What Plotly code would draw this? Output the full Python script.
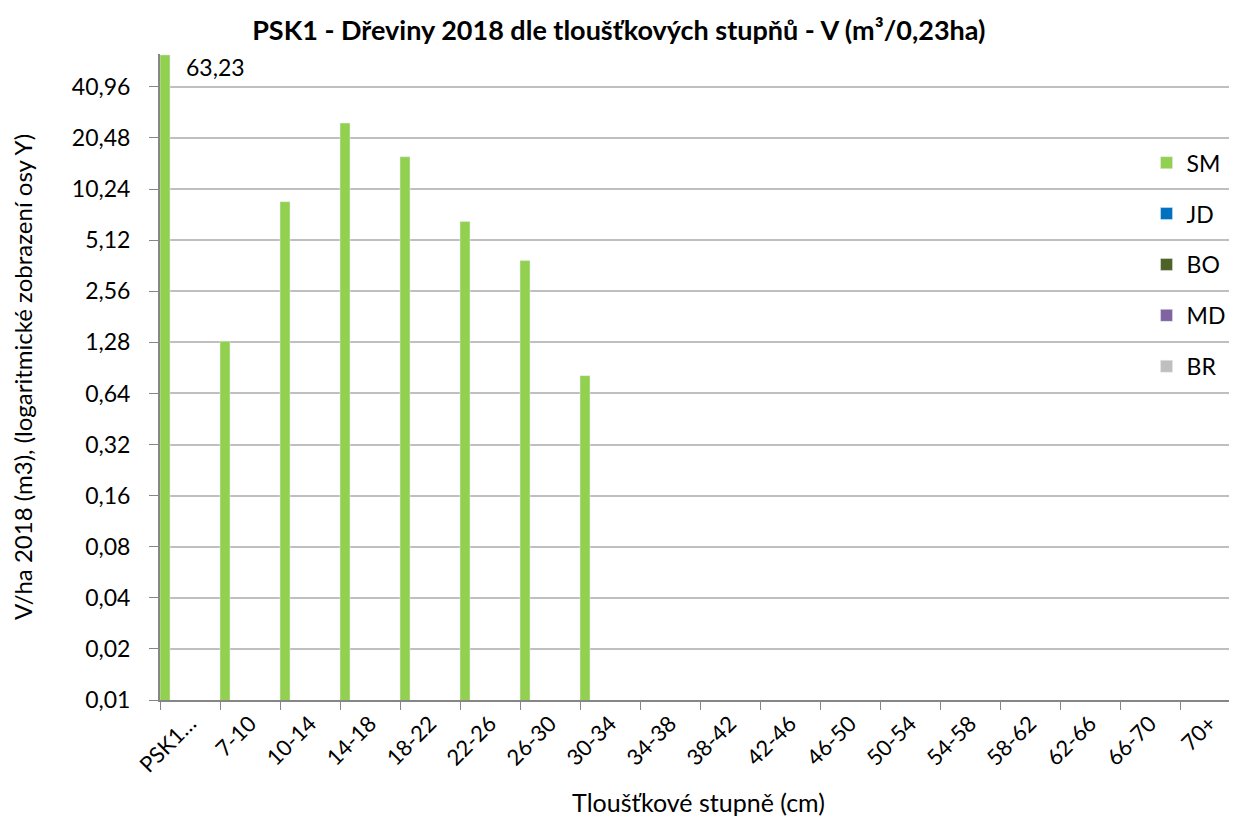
import math
import plotly.graph_objects as go

categories = ["PSK1…", "7-10", "10-14", "14-18", "18-22", "22-26", "26-30", "30-34",
              "34-38", "38-42", "42-46", "46-50", "50-54", "54-58", "58-62",
              "62-66", "66-70", "70+"]

# only SM has volumes, others are empty in this stand
sm = [63.23, 1.3, 8.63, 25.06, 15.88, 6.59, 3.88, 0.815,
      None, None, None, None, None, None, None, None, None, None]
empty = [None] * len(categories)

series = [("SM", sm, "#92D050"),
          ("JD", empty, "#0070C0"),
          ("BO", empty, "#4F6228"),
          ("MD", empty, "#8064A2"),
          ("BR", empty, "#BFBFBF")]

ytickvals = [0.01, 0.02, 0.04, 0.08, 0.16, 0.32, 0.64, 1.28, 2.56, 5.12, 10.24, 20.48, 40.96]
yticktext = ["0,01", "0,02", "0,04", "0,08", "0,16", "0,32", "0,64", "1,28",
             "2,56", "5,12", "10,24", "20,48", "40,96"]

font = "Lato, 'Open Sans', sans-serif"

fig = go.Figure()
w = 1 / 6
for i, (name, vals, col) in enumerate(series):
    fig.add_trace(go.Bar(
        x=categories, y=vals, name=name, marker_color=col,
        width=w, offset=-0.5 + i * w, legendgroup=name,
    ))

fig.add_annotation(x=categories[0], y=math.log10(sm[0]), text="63,23",
                   showarrow=False, xanchor="left", yanchor="top",
                   xshift=-6, yshift=4, font=dict(size=23, color="black"))

# body margin of the page is 8px, so the figure is a bit smaller than the window
fig.update_layout(
    width=1229, height=809,
    margin=dict(l=152, r=0, t=46, b=117, autoexpand=False),
    plot_bgcolor="white", paper_bgcolor="white",
    font=dict(family=font, size=22, color="black"),
    title=dict(text="<b>PSK1 - Dřeviny 2018 dle tloušťkových stupňů - V (m³/0,23ha)</b>",
               x=0.497, xref="container", y=1 - 23 / 809, yref="container",
               xanchor="center", yanchor="middle", font=dict(size=27)),
    barmode="group",
    showlegend=True,
    legend=dict(x=0.916, xanchor="left", y=0.865, yanchor="top",
                bgcolor="rgba(0,0,0,0)", tracegroupgap=18,
                font=dict(size=23)),
)
fig.update_xaxes(
    type="category", range=[-0.5, 17.45],
    tickson="boundaries", ticks="outside", ticklen=8, tickcolor="#868686",
    showline=True, linecolor="#868686", linewidth=2,
    tickangle=-45, tickfont=dict(size=22),
    title=dict(text="Tloušťkové stupně (cm)", font=dict(size=25), standoff=24),
)
fig.update_yaxes(
    type="log", range=[math.log10(0.01), math.log10(64)],
    tickvals=ytickvals, ticktext=yticktext,
    ticks="outside", ticklen=9, tickcolor="#868686", ticklabelstandoff=14,
    showline=True, linecolor="#868686", linewidth=2,
    showgrid=True, gridcolor="#BFBFBF", gridwidth=2,
    tickfont=dict(size=23),
    title=dict(text="V/ha 2018 (m3), (logaritmické zobrazení osy Y)", font=dict(size=24), standoff=34),
)

fig.write_html("out.html")
